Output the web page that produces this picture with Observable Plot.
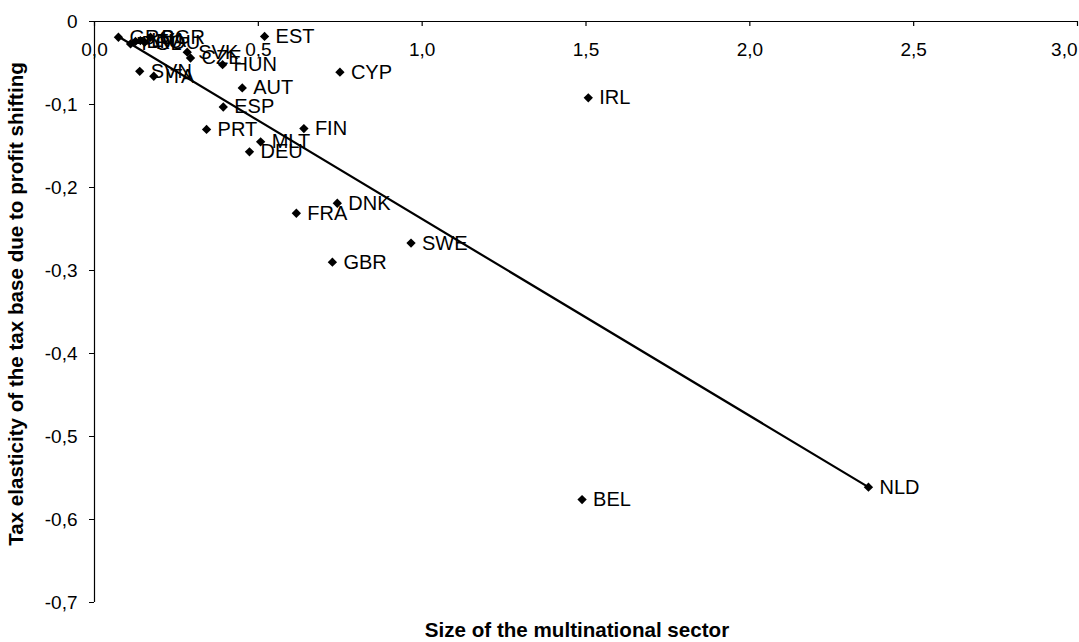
<!DOCTYPE html>
<html><head><meta charset="utf-8">
<script src="https://cdn.jsdelivr.net/npm/d3@7"></script>
<script src="https://cdn.jsdelivr.net/npm/@observablehq/plot@0.6"></script>
<style>body{margin:0;background:#fff;}</style>
</head><body><div id="chart"></div>
<script>
const countries = ["GRC","POL","LTU","LVA","ROU","BGR","SVK","CZE","HUN","EST","SVN","ITA","AUT","ESP","CYP","PRT","FIN","MLT","DEU","IRL","DNK","FRA","SWE","GBR","BEL","NLD"];
const sizeValues = [0.073,0.110,0.125,0.140,0.153,0.171,0.283,0.293,0.391,0.519,0.138,0.181,0.451,0.393,0.749,0.342,0.639,0.507,0.473,1.507,0.741,0.616,0.966,0.726,1.488,2.362];
const elasticityValues = [-0.019,-0.027,-0.024,-0.023,-0.025,-0.019,-0.037,-0.044,-0.052,-0.018,-0.060,-0.066,-0.080,-0.103,-0.061,-0.130,-0.129,-0.145,-0.157,-0.092,-0.219,-0.231,-0.267,-0.290,-0.576,-0.561];
const trendX = [0.079, 2.362];
const trendY = [-0.0196, -0.561];
const xTicks = [0, 0.5, 1, 1.5, 2, 2.5, 3];
const yTicks = [0, -0.1, -0.2, -0.3, -0.4, -0.5, -0.6, -0.7];
const xTitle = "Size of the multinational sector";
const yTitle = "Tax elasticity of the tax base due to profit shifting";

const data = countries.map((c, i) => ({c, x: sizeValues[i], y: elasticityValues[i]}));
const trend = trendX.map((x, i) => ({x, y: trendY[i]}));
const fmtY = d => d === 0 ? "0" : d.toFixed(1).replace(".", ",");
const fmtX = d => d.toFixed(1).replace(".", ",");

const chart = Plot.plot({
  width: 1079, height: 642,
  marginLeft: 94, marginRight: 2, marginTop: 21, marginBottom: 40,
  x: {domain: [0, 3]},
  y: {domain: [-0.7, 0]},
  style: {fontFamily: "'Liberation Sans', Arial, sans-serif", fontSize: "19px", background: "#fff", color: "#000", overflow: "visible"},
  marks: [
    Plot.ruleY([0], {stroke: "#000", strokeWidth: 1.2}),
    Plot.ruleX([0], {stroke: "#000", strokeWidth: 1.2}),
    Plot.ruleX(xTicks, {x: d => d, y1: 0, y2: -0.006, stroke: "#000", strokeWidth: 1.2}),
    Plot.text(xTicks.slice(0, -1), {x: d => d, y: 0, text: fmtX, dy: 28, fontSize: 19, fill: "#000"}),
    Plot.text(xTicks.slice(-1), {x: d => d, y: 0, text: fmtX, dy: 28, fontSize: 19, textAnchor: "end", fill: "#000"}),
    Plot.axisY({ticks: yTicks, tickSize: 5, tickPadding: 12, tickFormat: fmtY, fontSize: 19, label: yTitle, labelAnchor: "center", labelArrow: "none", labelOffset: 86}),
    Plot.axisX({anchor: "bottom", ticks: [], label: xTitle, labelAnchor: "center", labelArrow: "none", labelOffset: 34}),
    Plot.line(trend, {x: "x", y: "y", stroke: "#000", strokeWidth: 2.2}),
    Plot.dot(data, {x: "x", y: "y", symbol: "diamond2", r: 4.2, fill: "#000", stroke: "none"}),
    Plot.text(data, {x: "x", y: "y", text: "c", textAnchor: "start", dx: 11, fontSize: 20, fill: "#000"})
  ]
});
d3.select(chart).selectAll('[aria-label="y-axis label"] text, [aria-label="x-axis label"] text')
  .attr("font-weight", "bold").attr("font-size", "20.6px");
const shift = (sel, tx, ty) => { const g = d3.select(chart).select(sel); g.attr("transform", `translate(${tx},${ty}) ` + (g.attr("transform") || "")); };
shift('[aria-label="y-axis label"]', 0, -8);
shift('[aria-label="x-axis label"]', -9, 0);
document.getElementById("chart").appendChild(chart);
</script>
</body></html>
